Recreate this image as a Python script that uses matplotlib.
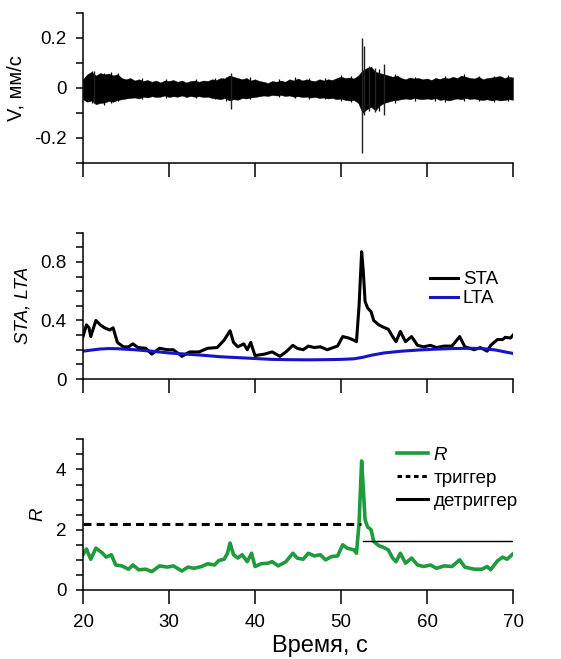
import numpy as np
import matplotlib
matplotlib.use('Agg')
import matplotlib.pyplot as plt
from matplotlib.lines import Line2D

plt.rcParams['font.family'] = ['Liberation Sans', 'DejaVu Sans']

# --- seismogram envelope, read every 0.5 s (V, mm/s) ---
env_upper = [0.035, 0.055, 0.065, 0.05, 0.06, 0.055, 0.058, 0.05, 0.055, 0.04,
             0.035, 0.04, 0.03, 0.035, 0.028, 0.032, 0.025, 0.03, 0.022, 0.03,
             0.028, 0.032, 0.025, 0.03, 0.022, 0.028, 0.03, 0.025, 0.03, 0.028,
             0.035, 0.032, 0.04, 0.038, 0.05, 0.045, 0.04, 0.035, 0.04, 0.03,
             0.035, 0.028, 0.025, 0.02, 0.028, 0.025, 0.03, 0.025, 0.035, 0.03,
             0.038, 0.03, 0.035, 0.03, 0.028, 0.035, 0.03, 0.035, 0.032, 0.04,
             0.045, 0.04, 0.042, 0.038, 0.05, 0.07, 0.08, 0.085, 0.065, 0.06,
             0.055, 0.05, 0.045, 0.05, 0.04, 0.035, 0.042, 0.038, 0.04, 0.035,
             0.038, 0.032, 0.04, 0.036, 0.042, 0.038, 0.045, 0.04, 0.05, 0.045,
             0.04, 0.038, 0.045, 0.035, 0.04, 0.042, 0.045, 0.048, 0.04, 0.045,
             0.042]
env_lower = [-0.045, -0.055, -0.05, -0.065, -0.06, -0.058, -0.052, -0.055, -0.048, -0.045,
             -0.042, -0.04, -0.038, -0.042, -0.035, -0.038, -0.033, -0.036, -0.035, -0.03,
             -0.036, -0.033, -0.035, -0.03, -0.036, -0.032, -0.035, -0.033, -0.036, -0.035,
             -0.04, -0.042, -0.045, -0.04, -0.05, -0.045, -0.047, -0.04, -0.042, -0.038,
             -0.036, -0.033, -0.03, -0.032, -0.028, -0.03, -0.028, -0.032, -0.03, -0.035,
             -0.033, -0.036, -0.035, -0.038, -0.036, -0.04, -0.038, -0.042, -0.04, -0.045,
             -0.042, -0.048, -0.05, -0.048, -0.06, -0.1, -0.085, -0.075, -0.09, -0.07,
             -0.06, -0.055, -0.05, -0.048, -0.045, -0.042, -0.045, -0.04, -0.043, -0.045,
             -0.042, -0.045, -0.04, -0.048, -0.045, -0.05, -0.046, -0.042, -0.045, -0.04,
             -0.044, -0.042, -0.046, -0.048, -0.045, -0.05, -0.046, -0.05, -0.048, -0.045,
             -0.047]
# strongest single swings
spike_t = [21.3, 37.2, 52.45, 52.62, 53.3, 53.9, 55.0]
spike_lo = [-0.06, -0.083, -0.26, -0.11, -0.09, -0.095, -0.11]
spike_hi = [0.068, 0.06, 0.2, 0.17, 0.09, 0.08, 0.097]
# smaller peaks that make the band edge ragged
burst_t = [20.3, 21.0, 22.4, 23.2, 24.1, 26.9, 29.6, 33.1, 35.3, 36.6, 39.4, 42.8,
           44.6, 46.3, 48.1, 50.0, 51.2, 54.4, 56.3, 58.6, 60.9, 62.1, 64.3, 66.0,
           67.8, 69.4]
burst_lo = [-0.05, -0.06, -0.068, -0.06, -0.05, -0.045, -0.04, -0.04, -0.045, -0.05,
            -0.045, -0.035, -0.04, -0.042, -0.045, -0.05, -0.055, -0.09, -0.06, -0.05,
            -0.05, -0.055, -0.05, -0.05, -0.055, -0.052]
burst_hi = [0.05, 0.07, 0.062, 0.065, 0.06, 0.04, 0.035, 0.038, 0.042, 0.045,
            0.045, 0.035, 0.045, 0.04, 0.04, 0.052, 0.048, 0.075, 0.055, 0.045,
            0.042, 0.048, 0.055, 0.05, 0.05, 0.052]

# --- STA / LTA ---
sta_t = [20.0, 20.4, 20.7, 20.9, 21.5, 22.0, 22.5, 23.1, 23.5, 24.0, 24.7, 25.3, 25.8,
         26.4, 27.3, 28.0, 28.9, 29.8, 30.5, 31.5, 32.4, 33.5, 34.5, 35.6, 36.4, 37.1,
         37.5, 38.0, 38.7, 39.1, 39.5, 40.0, 41.1, 42.0, 42.9, 43.6, 44.4, 44.9, 45.6,
         46.2, 46.9, 47.6, 48.4, 49.1, 49.6, 50.2, 50.9, 51.5, 51.8, 52.1, 52.4, 52.6,
         52.8, 53.1, 53.5, 53.8, 54.4, 54.9, 55.5, 56.0, 56.4, 56.9, 57.5, 58.2, 58.9,
         59.6, 60.4, 61.1, 62.0, 62.9, 63.8, 64.4, 65.5, 66.2, 67.0, 67.4, 68.2, 68.8,
         69.1, 69.7, 70.0]
sta_v = [0.29, 0.37, 0.35, 0.29, 0.40, 0.37, 0.35, 0.335, 0.35, 0.25, 0.22, 0.22, 0.24,
         0.215, 0.21, 0.17, 0.21, 0.20, 0.20, 0.155, 0.185, 0.185, 0.21, 0.215, 0.265, 0.33,
         0.25, 0.22, 0.24, 0.20, 0.25, 0.16, 0.17, 0.185, 0.155, 0.185, 0.23, 0.21, 0.20,
         0.225, 0.215, 0.22, 0.20, 0.215, 0.225, 0.29, 0.28, 0.265, 0.255, 0.50, 0.87, 0.73,
         0.53, 0.485, 0.46, 0.40, 0.37, 0.355, 0.34, 0.29, 0.255, 0.325, 0.255, 0.29, 0.23,
         0.22, 0.23, 0.215, 0.225, 0.225, 0.29, 0.22, 0.20, 0.215, 0.19, 0.23, 0.27, 0.27,
         0.285, 0.28, 0.30]
lta_t = [20, 21, 22, 23, 24, 26, 28, 30, 32, 34, 36, 38, 40, 42, 44, 46, 48, 50,
         51.5, 52.5, 53.5, 55, 57, 59, 61, 63, 65, 66.5, 68, 69, 70]
lta_v = [0.19, 0.198, 0.205, 0.208, 0.207, 0.2, 0.19, 0.178, 0.17, 0.162, 0.152, 0.146,
         0.14, 0.134, 0.132, 0.131, 0.132, 0.134, 0.138, 0.148, 0.162, 0.178, 0.19, 0.198,
         0.204, 0.208, 0.21, 0.208, 0.198, 0.186, 0.175]

# --- R = STA/LTA ---
r_t = [20.0, 20.4, 20.9, 21.5, 22.2, 22.7, 23.3, 23.8, 24.5, 25.3, 25.8, 26.5, 27.3,
       28.0, 28.9, 29.8, 30.5, 31.5, 32.2, 32.9, 33.8, 34.5, 35.3, 35.8, 36.4, 36.8,
       37.1, 37.5, 38.0, 38.5, 39.1, 39.6, 40.0, 40.7, 41.5, 42.0, 42.7, 43.6, 44.4,
       44.9, 45.6, 46.2, 46.9, 47.6, 48.2, 48.9, 49.6, 50.2, 50.7, 51.5, 51.8, 52.1,
       52.4, 52.6, 52.8, 53.1, 53.5, 53.8, 54.4, 54.9, 55.5, 56.0, 56.4, 56.9, 57.5,
       58.2, 58.9, 59.6, 60.4, 61.1, 62.0, 62.9, 63.8, 64.4, 65.5, 66.4, 67.0, 67.4,
       68.2, 68.8, 69.3, 70.0]
r_v = [1.17, 1.36, 1.02, 1.39, 1.24, 1.09, 1.17, 0.83, 0.80, 0.69, 0.83, 0.67, 0.69,
       0.61, 0.80, 0.76, 0.80, 0.63, 0.76, 0.72, 0.78, 0.87, 0.83, 0.98, 1.02, 1.22,
       1.56, 1.17, 1.06, 1.17, 0.94, 1.22, 0.78, 0.87, 0.89, 0.94, 0.80, 0.94, 1.22,
       1.06, 1.02, 1.22, 1.13, 1.17, 1.00, 1.11, 1.13, 1.50, 1.39, 1.33, 1.22, 2.22,
       4.28, 3.33, 2.33, 2.09, 2.00, 1.61, 1.47, 1.42, 1.33, 1.06, 0.94, 1.22, 0.89,
       1.06, 0.83, 0.78, 0.83, 0.72, 0.80, 0.78, 1.00, 0.76, 0.69, 0.69, 0.78, 0.67,
       0.97, 1.09, 1.02, 1.20]
trigger_level = 2.2
trigger_span = [20, 52.3]
detrigger_level = 1.64
detrigger_span = [52.6, 70]

x_ticks = [20, 30, 40, 50, 60, 70]

GREEN = '#1f9a3c'
BLUE = '#1414c8'
FS = 13.5

W, H = 561, 659
fig = plt.figure(figsize=(W / 100, H / 100), dpi=100)


def add_panel(top, bottom):
    ax = fig.add_axes([83 / W, 1 - bottom / H, 430 / W, (bottom - top) / H])
    for s in ['top', 'right']:
        ax.spines[s].set_visible(False)
    for s in ['left', 'bottom']:
        ax.spines[s].set_linewidth(1.1)
    ax.set_xlim(20, 70)
    ax.set_xticks(x_ticks)
    ax.tick_params(axis='x', which='major', direction='out', length=10, width=1.1,
                   labelsize=FS, pad=7)
    ax.tick_params(axis='y', which='both', direction='out', length=5, width=1.1,
                   labelsize=FS, pad=7)
    return ax


# panel 1: seismogram
ax1 = add_panel(13, 163)
t_env = np.linspace(20, 70, len(env_upper))
ax1.fill_between(t_env, env_lower, env_upper, color='black', linewidth=0.3, edgecolor='black')
ax1.vlines(burst_t, burst_lo, burst_hi, color='black', linewidth=0.9)
ax1.vlines(spike_t, spike_lo, spike_hi, color='#222222', linewidth=1.0)
ax1.set_ylim(-0.3, 0.3)
ax1.set_yticks([-0.2, 0, 0.2])
ax1.set_yticklabels(['-0.2', '0', '0.2'])
ax1.set_yticks([-0.3, -0.1, 0.1, 0.3], minor=True)
ax1.set_xticklabels([])
ax1.set_ylabel('V, мм/с', fontsize=14.5)
ax1.yaxis.set_label_coords(-0.133, 0.5)

# panel 2: STA / LTA
ax2 = add_panel(232.7, 379)
ax2.plot(sta_t, sta_v, color='black', linewidth=2.2, label='STA')
ax2.plot(lta_t, lta_v, color=BLUE, linewidth=2.2, label='LTA')
ax2.set_ylim(0, 1.0)
ax2.set_yticks([0, 0.4, 0.8])
ax2.set_yticklabels(['0', '0.4', '0.8'])
ax2.set_yticks([0.1, 0.2, 0.3, 0.5, 0.6, 0.7, 0.9, 1.0], minor=True)
ax2.set_xticklabels([])
ax2.set_ylabel('STA, LTA', fontsize=FS, style='italic')
ax2.yaxis.set_label_coords(-0.119, 0.5)
ax2.legend(loc='upper left', bbox_to_anchor=(0.807, 0.738), frameon=False, fontsize=FS,
           handlelength=1.5, handletextpad=0.25, labelspacing=0.1, borderaxespad=0,
           borderpad=0)

# panel 3: R with trigger / detrigger
ax3 = add_panel(439.3, 590)
ax3.plot(r_t, r_v, color=GREEN, linewidth=2.6)
ax3.plot(trigger_span, [trigger_level] * 2, color='black', linewidth=2.2,
         linestyle=(0, (2.6, 1.7)))
ax3.plot(detrigger_span, [detrigger_level] * 2, color='black', linewidth=1.0)
ax3.set_ylim(0, 5)
ax3.set_yticks([0, 2, 4])
ax3.set_yticks([0.5, 1, 1.5, 2.5, 3, 3.5, 4.5, 5], minor=True)
ax3.set_ylabel('R', fontsize=FS, style='italic')
ax3.yaxis.set_label_coords(-0.086, 0.5)
ax3.set_xlabel('Время, с', fontsize=17)
ax3.xaxis.set_label_coords(0.551, -0.3)
handles = [Line2D([], [], color=GREEN, linewidth=2.6),
           Line2D([], [], color='black', linewidth=2.2, linestyle=(0, (1.5, 1.2))),
           Line2D([], [], color='black', linewidth=2.2)]
leg = ax3.legend(handles, ['R', 'триггер', 'детриггер'], loc='upper left',
                 bbox_to_anchor=(0.73, 0.952), frameon=False, fontsize=FS,
                 handlelength=1.65, handletextpad=0.3, labelspacing=0.32, borderaxespad=0,
                 borderpad=0)
leg.get_texts()[0].set_style('italic')

fig.savefig('out.png', dpi=100)
